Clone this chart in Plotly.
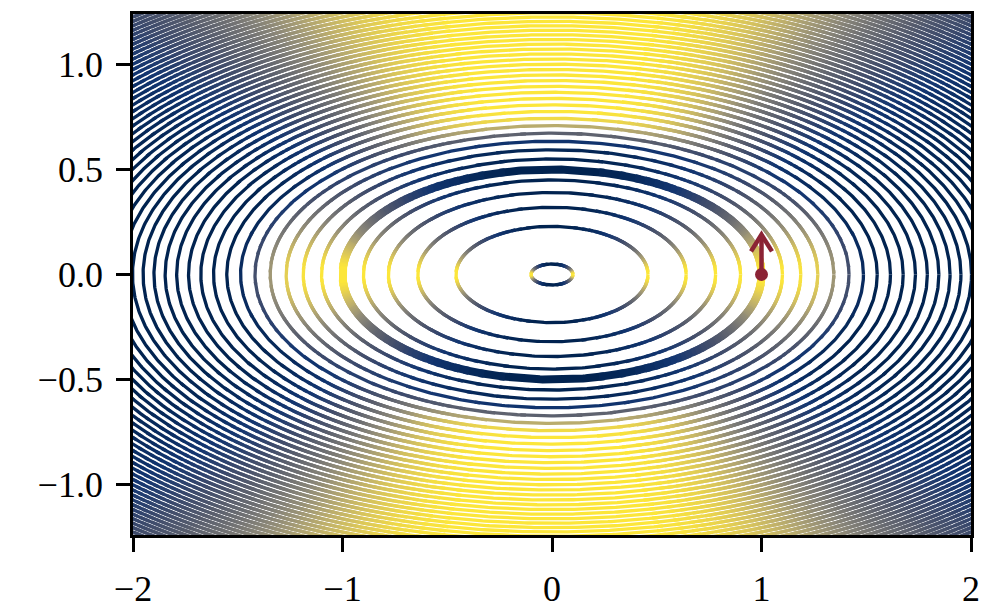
import numpy as np
import plotly.graph_objects as go
from plotly.colors import sample_colorscale

# ---------------- data ----------------
LEVELS = [0.01, 0.21, 0.41, 0.61, 0.81, 1.01, 1.21, 1.41, 1.61, 1.81,
          2.01, 2.21, 2.41, 2.61, 2.81, 3.01, 3.21, 3.41, 3.61, 3.81,
          4.01, 4.21, 4.41, 4.61, 4.81, 5.01, 5.21, 5.41, 5.61, 5.81,
          6.01, 6.21, 6.41, 6.61, 6.81, 7.01, 7.21, 7.41, 7.61, 7.81,
          8.01, 8.21, 8.41, 8.61, 8.81, 9.01, 9.21, 9.41, 9.61, 9.81,
          10.01, 10.21]
POINT_X = [1.0]
POINT_Y = [0.0]
ARROW_DX = [0.0]
ARROW_DY = [0.19]
X_TICKS = [-2, -1, 0, 1, 2]
X_TICK_TEXT = ["\u22122", "\u22121", "0", "1", "2"]
Y_TICKS = [-1.0, -0.5, 0.0, 0.5, 1.0]
Y_TICK_TEXT = ["\u22121.0", "\u22120.5", "0.0", "0.5", "1.0"]

# ---------------- styles ----------------
RED = "#8b2335"
NBINS = 64
THIN_W = 3.3
THICK_W = 8.0
XR = [-2, 2]
YR = [-1.24, 1.24]


def objective(x, y):
    return x ** 2 + 4 * y ** 2


def shade(x, y):
    L = objective(x, y)
    a = x ** 2 / (x ** 2 + 16 * y ** 2 + 1e-12)
    yy = (1.2 * np.abs(y)) ** 4
    b = yy / (yy + x ** 4 + 1e-12)
    w = 1.0 / (1.0 + np.exp((L - 1.88) / 0.12))
    return np.clip(w * a + (1 - w) * b, 0, 1)


def level_curve(L):
    # level set {objective = L}
    n = int(1017 * np.sqrt(L) / 2.5) + 80
    t = np.linspace(0, 2 * np.pi, n + 1)
    return np.sqrt(L) * np.cos(t), np.sqrt(L) / 2 * np.sin(t)


bin_colors = sample_colorscale("Cividis", [(b + 0.5) / NBINS for b in range(NBINS)])


def add_levels(fig, levels, width):
    bx = [[] for _ in range(NBINS)]
    by = [[] for _ in range(NBINS)]
    for L in levels:
        xs, ys = level_curve(L)
        mx = 0.5 * (xs[:-1] + xs[1:])
        my = 0.5 * (ys[:-1] + ys[1:])
        v = shade(mx, my)
        b = np.minimum((v * NBINS).astype(int), NBINS - 1)
        n = len(b)
        i = 0
        while i < n:
            j = i
            while j + 1 < n and b[j + 1] == b[i]:
                j += 1
            s = max(i - 1, 0)
            e = min(j + 2, n)
            seg_x = xs[s:e + 1]
            seg_y = ys[s:e + 1]
            inside = (np.abs(seg_x) <= 2.3) & (np.abs(seg_y) <= 1.5)
            if inside.any():
                bx[b[i]].extend(seg_x.tolist() + [None])
                by[b[i]].extend(seg_y.tolist() + [None])
            i = j + 1
    for k in range(NBINS):
        if bx[k]:
            fig.add_trace(go.Scatter(x=bx[k], y=by[k], mode="lines",
                                     line=dict(color=bin_colors[k], width=width),
                                     hoverinfo="skip", showlegend=False))


fig = go.Figure()
add_levels(fig, LEVELS, THIN_W)
add_levels(fig, [objective(POINT_X[0], POINT_Y[0])], THICK_W)

# arrow
px0, py0 = POINT_X[0], POINT_Y[0]
tipx, tipy = px0 + ARROW_DX[0], py0 + ARROW_DY[0]
fig.add_trace(go.Scatter(x=[px0, tipx], y=[py0, tipy], mode="lines",
                         line=dict(color=RED, width=4.5), hoverinfo="skip", showlegend=False))
ang = np.arctan2(ARROW_DY[0], ARROW_DX[0])
hl, hw = 0.08, 0.05
bxp = tipx - hl * np.cos(ang)
byp = tipy - hl * np.sin(ang)
fig.add_trace(go.Scatter(x=[bxp - hw * np.sin(ang), tipx, bxp + hw * np.sin(ang)],
                         y=[byp + hw * np.cos(ang), tipy, byp - hw * np.cos(ang)],
                         mode="lines", line=dict(color=RED, width=4.5),
                         hoverinfo="skip", showlegend=False))
fig.add_trace(go.Scatter(x=POINT_X, y=POINT_Y, mode="markers",
                         marker=dict(color=RED, size=13), hoverinfo="skip", showlegend=False))

axis_common = dict(ticks="outside", ticklen=14, tickwidth=2.5, tickcolor="black",
                   showline=True, linewidth=2.8, linecolor="black", mirror=True,
                   showgrid=False, zeroline=False, automargin=False)
# the page body has an 8px default margin, so the figure is sized to fit the window
fig.update_layout(
    width=989, height=607,
    margin=dict(l=125, r=26, t=6, b=80),
    plot_bgcolor="white", paper_bgcolor="white",
    font=dict(family="Liberation Serif", size=36, color="black"),
    showlegend=False,
    xaxis=dict(range=XR, tickvals=X_TICKS, ticktext=X_TICK_TEXT, ticklabelstandoff=6, **axis_common),
    yaxis=dict(range=YR, tickvals=Y_TICKS, ticktext=Y_TICK_TEXT, ticklabelstandoff=6, **axis_common),
)
fig.write_html("out.html")
